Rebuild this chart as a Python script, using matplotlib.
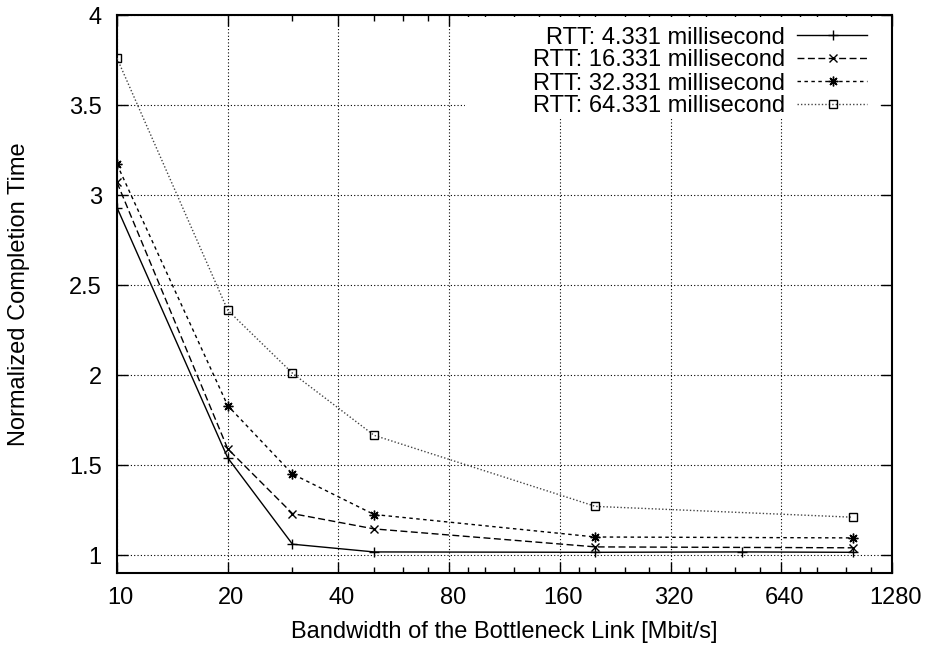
import matplotlib
matplotlib.use("Agg")
import matplotlib.pyplot as plt
import matplotlib.transforms as mtransforms
from matplotlib.lines import Line2D
from matplotlib.patches import Rectangle
from matplotlib.ticker import FixedLocator, NullFormatter

plt.rcParams['font.family'] = ['Liberation Sans', 'DejaVu Sans']

# ---- data ----
labels = ["RTT: 4.331 millisecond", "RTT: 16.331 millisecond",
          "RTT: 32.331 millisecond", "RTT: 64.331 millisecond"]
x_rtt4 = [10, 20, 30, 50, 200, 500, 1000]
y_rtt4 = [2.93, 1.54, 1.06, 1.017, 1.015, 1.017, 1.015]
x_rtt16 = [10, 20, 30, 50, 200, 1000]
y_rtt16 = [3.07, 1.59, 1.23, 1.145, 1.045, 1.04]
x_rtt32 = [10, 20, 30, 50, 200, 1000]
y_rtt32 = [3.17, 1.83, 1.45, 1.225, 1.10, 1.095]
x_rtt64 = [10, 20, 30, 50, 200, 1000]
y_rtt64 = [3.76, 2.36, 2.01, 1.665, 1.27, 1.21]

xticks = [10, 20, 40, 80, 160, 320, 640, 1280]
yticks = [1, 1.5, 2, 2.5, 3, 3.5, 4]
ytick_labels = ["1", "1.5", "2", "2.5", "3", "3.5", "4"]
minor_x = [30, 50, 60, 70, 90, 100, 120, 140, 180, 200, 240, 280,
           360, 400, 480, 560, 720, 800, 960, 1120]

xs = [x_rtt4, x_rtt16, x_rtt32, x_rtt64]
ys = [y_rtt4, y_rtt16, y_rtt32, y_rtt64]
markers = ['+', 'x', (8, 2, 0), 's']
styles = ['-', (0, (5, 2.5)), (0, (2.5, 2.5)), (0, (1, 1.5))]
colors = ['black', 'black', 'black', '#444444']
msizes = [7, 6, 7, 6]

FS = 17
W, H = 925, 647
L, R, T, B = 117, 892, 15, 573

fig = plt.figure(figsize=(W/100, H/100), dpi=100)
ax = fig.add_axes([L/W, 1-B/H, (R-L)/W, (B-T)/H])

def ax_x(px):
    return (px - L) / (R - L)

def ax_y(py):
    return (B - py) / (B - T)

ax.set_xscale('log', base=2)
ax.set_xlim(10, 1280)
ax.set_ylim(0.9, 4)

for x, y, m, ls, c, ms in zip(xs, ys, markers, styles, colors, msizes):
    ax.plot(x, y, linestyle=ls, color=c, linewidth=1.0, marker=m,
            markersize=ms, markerfacecolor='none', markeredgecolor='black',
            markeredgewidth=1.0, zorder=3)

ax.xaxis.set_major_locator(FixedLocator(xticks))
ax.set_xticklabels([str(t) for t in xticks])
ax.xaxis.set_minor_locator(FixedLocator(minor_x))
ax.xaxis.set_minor_formatter(NullFormatter())
ax.set_yticks(yticks)
ax.set_yticklabels(ytick_labels)
ax.yaxis.set_minor_locator(FixedLocator([]))

ax.tick_params(which='both', direction='in', top=True, right=True,
               labelsize=FS, width=1.0)
ax.tick_params(axis='x', pad=10)
ax.tick_params(axis='y', pad=11)
ax.tick_params(which='major', length=8)
ax.tick_params(which='minor', length=4)

off = mtransforms.ScaledTranslation(3.5/100, 0, fig.dpi_scale_trans)
for lab in ax.get_xticklabels():
    lab.set_transform(lab.get_transform() + off)

ax.grid(True, which='major', linestyle=(0, (1, 2)), color='black',
        linewidth=0.8)
ax.set_axisbelow(True)

for sp in ax.spines.values():
    sp.set_linewidth(1.5)

ax.set_xlabel("Bandwidth of the Bottleneck Link [Mbit/s]", fontsize=FS,
              labelpad=9)
ax.set_ylabel("Normalized Completion Time", fontsize=FS, labelpad=28)

# white background behind legend (hides grid)
ax.add_patch(Rectangle((ax_x(465), ax_y(119)), ax_x(879) - ax_x(465),
                       ax_y(17) - ax_y(119), transform=ax.transAxes,
                       facecolor='white', edgecolor='none', zorder=1.5))

# legend drawn gnuplot style: right-aligned text, sample to the right
ypix = [35, 58, 81, 104]
for lab, yp, m, ls, c, ms in zip(labels, ypix, markers, styles, colors, msizes):
    ya = ax_y(yp)
    ax.text(ax_x(785), ya, lab, transform=ax.transAxes, ha='right',
            va='center_baseline', fontsize=FS, zorder=4)
    ax.add_line(Line2D([ax_x(797), ax_x(867)], [ya, ya],
                       transform=ax.transAxes, linestyle=ls, color=c,
                       linewidth=1.0, zorder=4))
    ax.add_line(Line2D([ax_x(833)], [ya], transform=ax.transAxes,
                       marker=m, markersize=ms, markerfacecolor='none',
                       markeredgecolor='black', markeredgewidth=1.0,
                       linestyle='none', zorder=4))

fig.savefig("out.png", dpi=100)
